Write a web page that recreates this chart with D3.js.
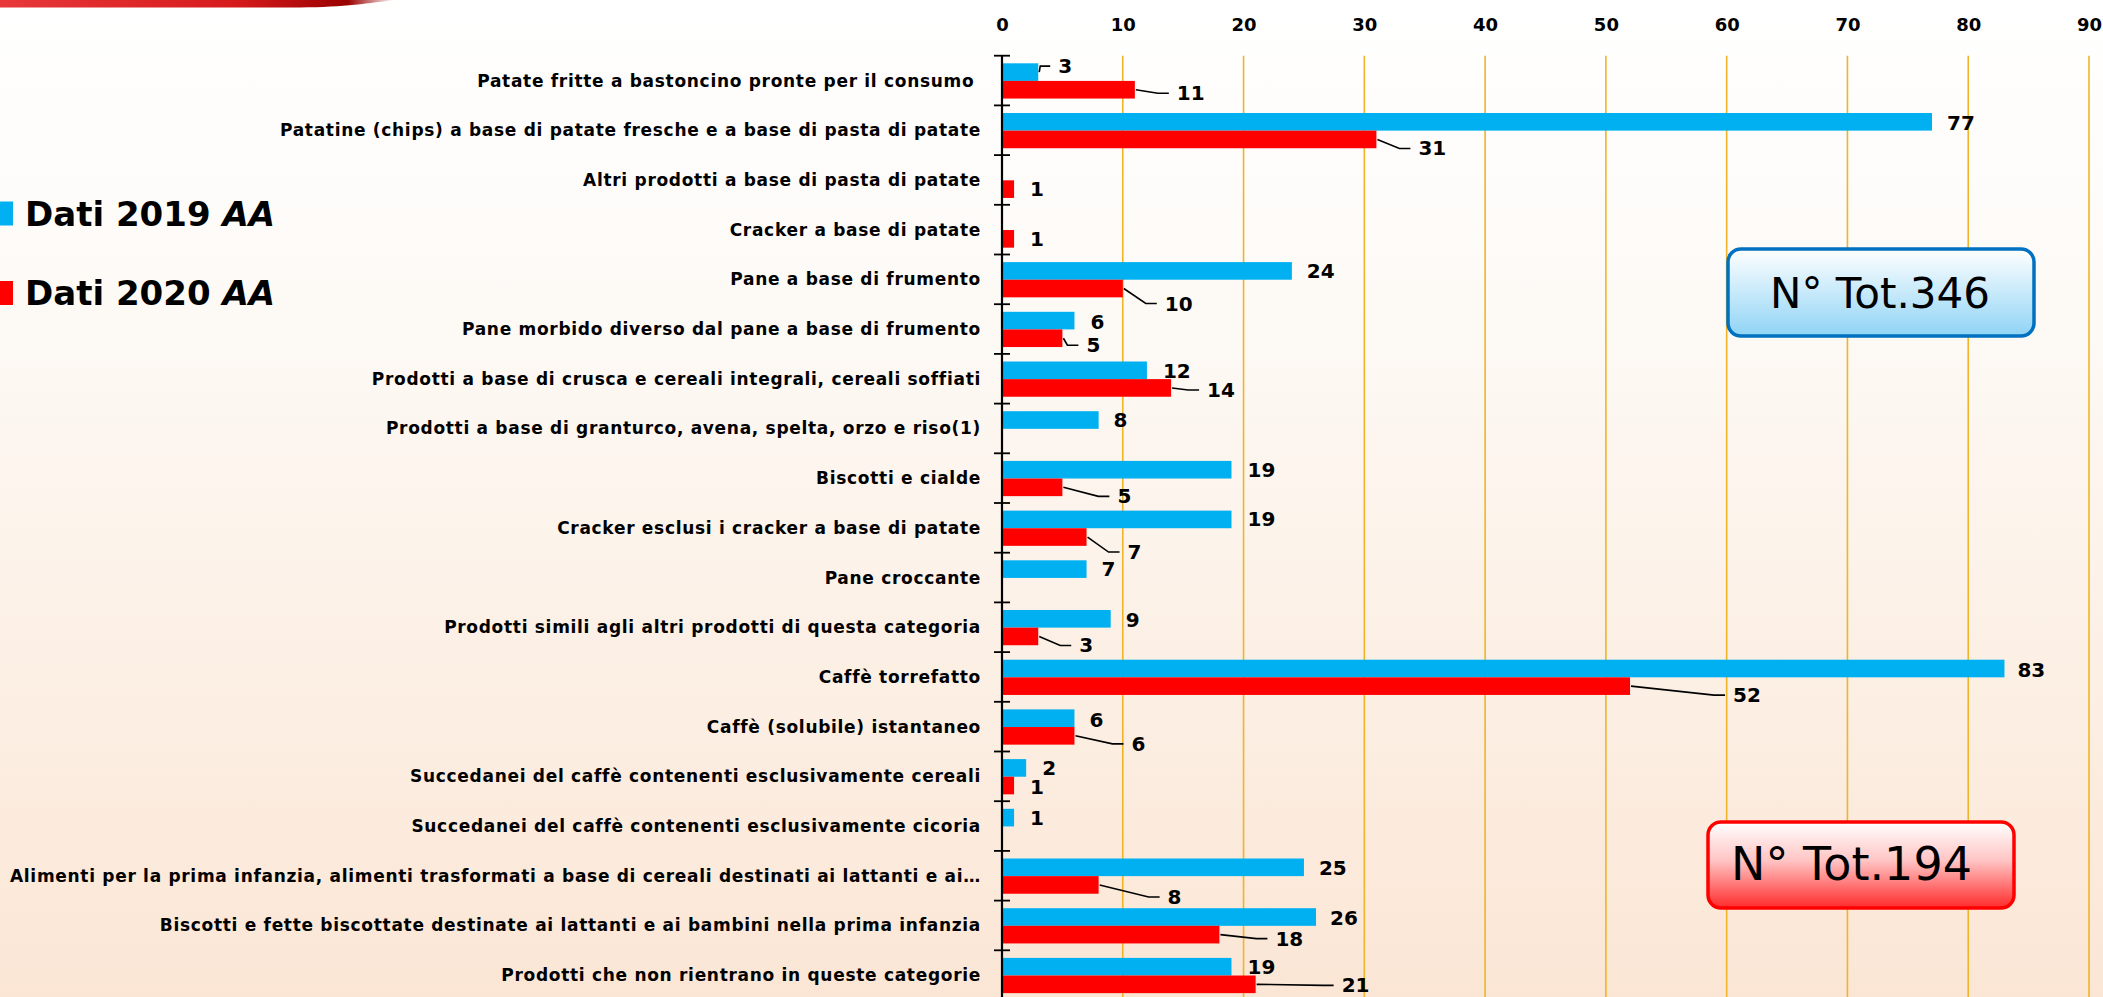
<!DOCTYPE html>
<html>
<head>
<meta charset="utf-8">
<script src="https://cdn.jsdelivr.net/npm/d3@7"></script>
<style>
  html, body { margin: 0; padding: 0; background: #fff; overflow: hidden; }
  svg { display: block; }
  text { font-family: "Comic Sans MS", "DejaVu Sans", sans-serif; }
</style>
</head>
<body>
<script>
// ---------- DATA ----------
const categories = [
  "Patate fritte a bastoncino pronte per il consumo\u00a0",
  "Patatine (chips) a base di patate fresche e a base di pasta di patate",
  "Altri prodotti a base di pasta di patate",
  "Cracker a base di patate",
  "Pane a base di frumento",
  "Pane morbido diverso dal pane a base di frumento",
  "Prodotti a base di crusca e cereali integrali, cereali soffiati",
  "Prodotti a base di granturco, avena, spelta, orzo e riso(1)",
  "Biscotti e cialde",
  "Cracker esclusi i cracker a base di patate",
  "Pane croccante",
  "Prodotti simili agli altri prodotti di questa categoria",
  "Caffè torrefatto",
  "Caffè (solubile) istantaneo",
  "Succedanei del caffè contenenti esclusivamente cereali",
  "Succedanei del caffè contenenti esclusivamente cicoria",
  "Alimenti per la prima infanzia, alimenti trasformati a base di cereali destinati ai lattanti e ai…",
  "Biscotti e fette biscottate destinate ai lattanti e ai bambini nella prima infanzia",
  "Prodotti che non rientrano in queste categorie"
];
const values2019 = [3, 77, null, null, 24, 6, 12, 8, 19, 19, 7, 9, 83, 6, 2, 1, 25, 26, 19];
const values2020 = [11, 31, 1, 1, 10, 5, 14, null, 5, 7, null, 3, 52, 6, 1, null, 8, 18, 21];
const seriesNames = ["Dati 2019 AA", "Dati 2020 AA"];
const xTicks = [0, 10, 20, 30, 40, 50, 60, 70, 80, 90];
const totals = ["N° Tot.346", "N° Tot.194"];

// ---------- LAYOUT / STYLE ----------
const W = 2103, H = 997;
const colors = ["#00B0F0", "#FF0000"];
// data-label placement (px offsets from bar end / bar centre, leader line flag)
const labelOffsets2019 = [[20,-6,1],[15,1,0],null,null,[15,0,0],[16,1,0],[16,1,0],[15,0,0],[16,0,0],[16,0,0],[15,0,0],[15,1,0],[13,1.5,0],[15,2,0],[16,0,0],[16,0,0],[15,1,0],[14,1,0],[16,0,0]];
const labelOffsets2020 = [[42,3.5,1],[42,9,1],[16,0,0],[16,0,0],[42,15,1],[24,7,1],[36,2,1],null,[55,9,1],[41,15,1],null,[41,9,1],[103,9,1],[57,8,1],[16,1.5,0],null,[69,12,1],[56,4,1],[86,1,1]];

const svg = d3.select("body").append("svg").attr("width", W).attr("height", H);
const defs = svg.append("defs");

// background gradient
const bg = defs.append("linearGradient").attr("id", "bg").attr("x1", 0).attr("y1", 0).attr("x2", 0).attr("y2", 1);
bg.append("stop").attr("offset", "0%").attr("stop-color", "#FFFFFF");
bg.append("stop").attr("offset", "30%").attr("stop-color", "#FDFAF6");
bg.append("stop").attr("offset", "100%").attr("stop-color", "#FBE6D5");
svg.append("rect").attr("width", W).attr("height", H).attr("fill", "url(#bg)");

// top-left red swoosh
const sw = defs.append("linearGradient").attr("id", "sw").attr("x1", 0).attr("y1", 0).attr("x2", 1).attr("y2", 0);
sw.append("stop").attr("offset", "0%").attr("stop-color", "#E8383A");
sw.append("stop").attr("offset", "60%").attr("stop-color", "#D61A1C");
sw.append("stop").attr("offset", "88%").attr("stop-color", "#9A0000");
sw.append("stop").attr("offset", "100%").attr("stop-color", "#FFFFFF");
svg.append("path").attr("d", "M0,0 L395,0 C370,3 345,7 300,7.5 L0,7.5 Z").attr("fill", "url(#sw)");

// scales
const x = d3.scaleLinear().domain([0, 90]).range([1002, 2089]);
const y = d3.scaleBand().domain(d3.range(categories.length)).range([55.7, 55.7 + 49.7 * categories.length]).padding(0);
const bw = y.bandwidth();
const ys = d3.scaleBand().domain([0, 1]).range([bw * 0.153, bw * 0.862]).padding(0);

// gridlines
svg.append("g").selectAll("line").data(xTicks.filter(d => d > 0)).join("line")
  .attr("x1", d => x(d)).attr("x2", d => x(d))
  .attr("y1", y.range()[0]).attr("y2", H + 5)
  .attr("stroke", "#F0B428").attr("stroke-width", 1.6);

// top axis labels
const xAxis = d3.axisTop(x).tickValues(xTicks).tickSize(0).tickPadding(0);
const gx = svg.append("g").attr("transform", "translate(0,30.5)").call(xAxis);
gx.select(".domain").remove();
gx.selectAll("text").attr("font-size", 18).attr("font-weight", "bold").attr("fill", "#000")
  .attr("font-family", "'Comic Sans MS', 'DejaVu Sans', sans-serif");

// bars
const series = [values2019, values2020];
const offsets = [labelOffsets2019, labelOffsets2020];
series.forEach((vals, s) => {
  const data = vals.map((v, i) => ({ v, i })).filter(d => d.v != null);
  svg.append("g").selectAll("rect").data(data).join("rect")
    .attr("x", x(0)).attr("y", d => y(d.i) + ys(s))
    .attr("width", d => x(d.v) - x(0)).attr("height", ys.bandwidth())
    .attr("fill", colors[s]);
});

// category axis
const axisG = svg.append("g");
axisG.append("line").attr("x1", x(0)).attr("x2", x(0)).attr("y1", y.range()[0]).attr("y2", H + 5)
  .attr("stroke", "#000").attr("stroke-width", 2.2);
axisG.selectAll("line.tk").data(d3.range(categories.length + 1)).join("line").attr("class", "tk")
  .attr("x1", x(0) - 8).attr("x2", x(0) + 8)
  .attr("y1", i => y.range()[0] + i * y.step()).attr("y2", i => y.range()[0] + i * y.step())
  .attr("stroke", "#000").attr("stroke-width", 1.8);
axisG.selectAll("text").data(categories).join("text")
  .attr("x", x(0) - 21).attr("y", (d, i) => y(i) + bw / 2)
  .attr("text-anchor", "end").attr("dominant-baseline", "central")
  .attr("font-size", 17).attr("font-weight", "bold").attr("fill", "#000")
  .attr("letter-spacing", 0.7)
  .text(d => d);

// data labels + leader lines
const lblG = svg.append("g");
series.forEach((vals, s) => {
  vals.forEach((v, i) => {
    if (v == null) return;
    const o = offsets[s][i];
    const xe = x(v), yc = y(i) + ys(s) + ys.bandwidth() / 2;
    const lx = xe + o[0], ly = yc + o[1];
    if (o[2]) {
      lblG.append("path")
        .attr("d", `M${xe + 1},${yc} L${Math.max(xe + 2, lx - 19)},${ly} L${lx - 8},${ly}`)
        .attr("fill", "none").attr("stroke", "#000").attr("stroke-width", 1.6);
    }
    lblG.append("text").attr("x", lx).attr("y", ly)
      .attr("dominant-baseline", "central").attr("font-size", 20).attr("font-weight", "bold")
      .attr("fill", "#000").text(v);
  });
});

// legend
const leg = svg.append("g");
seriesNames.forEach((n, s) => {
  const cy = [213.5, 293][s];
  leg.append("rect").attr("x", 0).attr("y", cy - 12).attr("width", 13).attr("height", 24).attr("fill", colors[s]);
  const t = leg.append("text").attr("x", 25).attr("y", cy + 12).attr("font-size", 34).attr("font-weight", "bold").attr("fill", "#000");
  const parts = n.split(" ");
  t.append("tspan").text(parts.slice(0, 2).join(" ") + " ");
  t.append("tspan").attr("font-style", "italic").text(parts[2]);
});

// total boxes
const gB = defs.append("linearGradient").attr("id", "gb").attr("x1", 0).attr("y1", 0).attr("x2", 0).attr("y2", 1);
gB.append("stop").attr("offset", "0%").attr("stop-color", "#FFFFFF");
gB.append("stop").attr("offset", "100%").attr("stop-color", "#8FD4F5");
const gR = defs.append("linearGradient").attr("id", "gr").attr("x1", 0).attr("y1", 0).attr("x2", 0).attr("y2", 1);
gR.append("stop").attr("offset", "0%").attr("stop-color", "#FFFFFF");
gR.append("stop").attr("offset", "45%").attr("stop-color", "#FFC4C4");
gR.append("stop").attr("offset", "100%").attr("stop-color", "#FF2B2B");

const boxes = [
  { x: 1728, y: 249, w: 306, h: 87, fill: "url(#gb)", stroke: "#0070C0", tx: 1880, ty: 308, anchor: "middle", fs: 42 },
  { x: 1708, y: 822, w: 306, h: 86, fill: "url(#gr)", stroke: "#FF0000", tx: 1731, ty: 880, anchor: "start", fs: 46 }
];
boxes.forEach((b, k) => {
  svg.append("rect").attr("x", b.x).attr("y", b.y).attr("width", b.w).attr("height", b.h)
    .attr("rx", 13).attr("fill", b.fill).attr("stroke", b.stroke).attr("stroke-width", 3.5);
  svg.append("text").attr("x", b.tx).attr("y", b.ty).attr("text-anchor", b.anchor)
    .attr("font-size", b.fs).attr("fill", "#000").text(totals[k]);
});
</script>
</body>
</html>
